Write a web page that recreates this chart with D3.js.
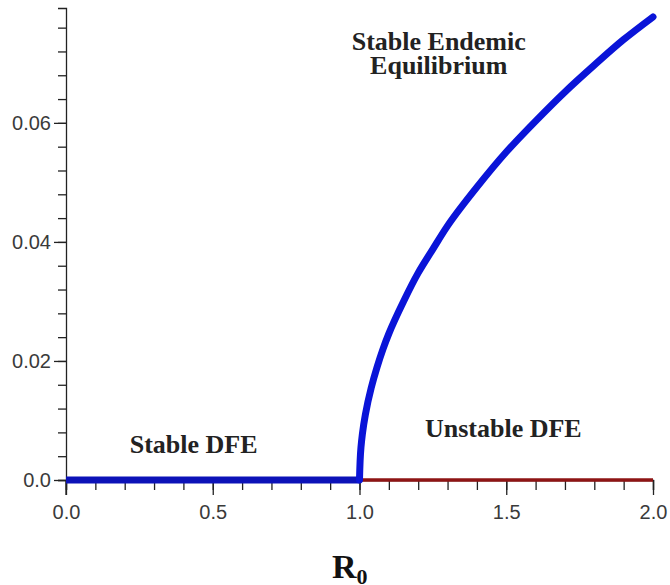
<!DOCTYPE html>
<html>
<head>
<meta charset="utf-8">
<script src="https://cdn.jsdelivr.net/npm/d3@7"></script>
<style>
html,body{margin:0;padding:0;background:#fff;}
svg{display:block;}
</style>
</head>
<body>
<svg id="chart" width="670" height="585"></svg>
<script>
// Data
const stableDFE_R0 = [0.0, 1.0];
const stableDFE_I  = [0.0, 0.0];
const unstableDFE_R0 = [1.0, 2.0];
const unstableDFE_I  = [0.0, 0.0];
const endemic_R0 = [1.00, 1.005, 1.01, 1.02, 1.04, 1.06, 1.08, 1.10, 1.15, 1.20, 1.25, 1.30, 1.40, 1.50, 1.60, 1.70, 1.80, 1.90, 2.00];
const endemic_I  = [0.0, 0.0055, 0.0078, 0.011, 0.0155, 0.019, 0.022, 0.0246, 0.030, 0.0348, 0.0388, 0.0427, 0.0492, 0.0551, 0.0603, 0.0652, 0.0697, 0.0740, 0.0778];
const xTickValues = [0.0, 0.5, 1.0, 1.5, 2.0];
const xTickLabels = ["0.0", "0.5", "1.0", "1.5", "2.0"];
const yTickValues = [0.0, 0.02, 0.04, 0.06];
const yTickLabels = ["0.0", "0.02", "0.04", "0.06"];
const regionLabels = [
  {lines: ["Stable Endemic", "Equilibrium"], x: 1.27, y: 0.0723},
  {lines: ["Stable DFE"], x: 0.435, y: 0.0046},
  {lines: ["Unstable DFE"], x: 1.49, y: 0.0072}
];

const svg = d3.select("#chart");
const x = d3.scaleLinear().domain([0, 2]).range([66, 653]);
const y = d3.scaleLinear().domain([0, 0.0793]).range([480, 8]);

const axisColor = "#222";
const labelFont = "'Liberation Sans', Arial, sans-serif";
const serif = "'Liberation Serif', 'Times New Roman', serif";

// X axis
const gx = svg.append("g").attr("transform", `translate(0,${y(0)})`);
gx.call(d3.axisBottom(x).tickValues(d3.range(0, 2.0001, 0.1)).tickSize(10).tickFormat(""));
gx.call(g => g.selectAll(".tick line").attr("stroke", axisColor).attr("stroke-width", 1.3));
const gx2 = svg.append("g").attr("transform", `translate(0,${y(0)})`);
gx2.call(d3.axisBottom(x).tickValues(xTickValues).tickSize(15).tickPadding(10)
  .tickFormat((d, i) => xTickLabels[i]));
gx2.select(".domain").remove();
gx.select(".domain").attr("stroke", axisColor).attr("stroke-width", 1.3);
gx2.selectAll(".tick line").attr("stroke", axisColor).attr("stroke-width", 1.3);
gx2.selectAll(".tick text").attr("font-family", labelFont).attr("font-size", 20)
  .attr("fill", "#3a3a3a");

// Y axis
const gy = svg.append("g").attr("transform", `translate(${x(0)},0)`);
gy.call(d3.axisLeft(y).tickValues(d3.range(0, 0.0793, 0.004)).tickSize(8).tickFormat(""));
gy.select(".domain").attr("stroke", axisColor).attr("stroke-width", 1.3);
gy.selectAll(".tick line").attr("stroke", axisColor).attr("stroke-width", 1.3);
const gy2 = svg.append("g").attr("transform", `translate(${x(0)},0)`);
gy2.call(d3.axisLeft(y).tickValues(yTickValues).tickSize(12).tickPadding(3)
  .tickFormat((d, i) => yTickLabels[i]));
gy2.select(".domain").remove();
gy2.selectAll(".tick line").attr("stroke", axisColor).attr("stroke-width", 1.3);
gy2.selectAll(".tick text").attr("font-family", labelFont).attr("font-size", 20)
  .attr("fill", "#3a3a3a");
// extend y axis slightly below to meet the x tick at 0
svg.append("line").attr("x1", x(0)).attr("x2", x(0)).attr("y1", y(0)).attr("y2", y(0) + 15)
  .attr("stroke", axisColor).attr("stroke-width", 1.3);

// Lines
const line = d3.line().x(d => x(d[0])).y(d => y(d[1]));
svg.append("path")
  .datum(unstableDFE_R0.map((r, i) => [r, unstableDFE_I[i]]))
  .attr("d", line).attr("fill", "none").attr("stroke", "#8e1414").attr("stroke-width", 3.5);
svg.append("path")
  .datum(stableDFE_R0.map((r, i) => [r, stableDFE_I[i]]))
  .attr("d", line).attr("fill", "none").attr("stroke", "#0c12b8").attr("stroke-width", 7);
svg.append("path")
  .datum(endemic_R0.map((r, i) => [r, endemic_I[i]]))
  .attr("d", d3.line().x(d => x(d[0])).y(d => y(d[1])).curve(d3.curveMonotoneY))
  .attr("fill", "none").attr("stroke", "#0a14d8").attr("stroke-width", 7)
  .attr("stroke-linecap", "round").attr("stroke-linejoin", "round");

// Region labels
regionLabels.forEach(l => {
  const t = svg.append("text")
    .attr("x", x(l.x)).attr("y", y(l.y))
    .attr("text-anchor", "middle")
    .attr("font-family", serif).attr("font-weight", "bold").attr("font-size", 26)
    .attr("fill", "#222");
  l.lines.forEach((s, i) => {
    t.append("tspan").attr("x", x(l.x)).attr("dy", i === 0 ? 0 : 24).text(s);
  });
});

// Axis title R0
const title = svg.append("text")
  .attr("x", 332).attr("y", 578)
  .attr("font-family", serif).attr("font-weight", "bold").attr("font-size", 34)
  .attr("fill", "#111");
title.append("tspan").text("R");
title.append("tspan").attr("font-size", 22).attr("dy", 6).text("0");
</script>
</body>
</html>
